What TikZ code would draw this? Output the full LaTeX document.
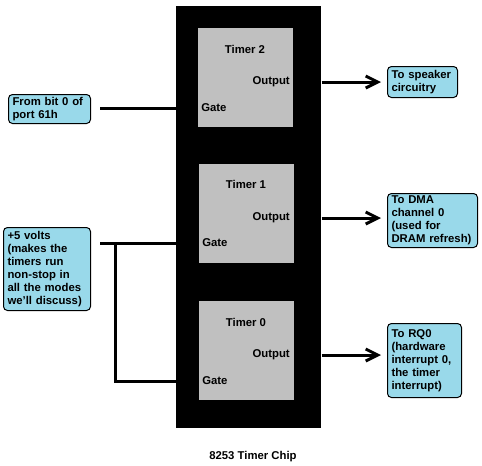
\documentclass[tikz,border=0pt]{standalone}
\usepackage{fontspec}
\setmainfont{Liberation Sans}
\usetikzlibrary{arrows.meta,calc}
\definecolor{boxblue}{HTML}{99D9EA}
\definecolor{timergray}{HTML}{C0C0C0}
\begin{document}
\begin{tikzpicture}[x=0.75pt,y=-0.75pt,
  lbl/.style={font=\bfseries\fontsize{8.5}{9.75}\selectfont, inner sep=0pt},
  info/.style={draw=black, line width=0.75pt, fill=boxblue, rounded corners=3pt,
    align=left, anchor=north west, inner xsep=3pt, inner ysep=1.5pt,
    font=\bfseries\fontsize{8.5}{9.75}\selectfont},
  timerbox/.style={fill=timergray, draw=none, anchor=north west, inner sep=0pt,
    minimum width=71.25pt, minimum height=74.25pt},
  wire/.style={line width=2.25pt, draw=black},
  outarrow/.style={wire, -{Straight Barb[length=9pt,width=9pt]}}]
\useasboundingbox (0,0) rectangle (482,465);
% chip
\node[fill=black, draw=none, anchor=north west, inner sep=0pt,
  minimum width=108.75pt, minimum height=316.5pt] (chip) at (176,6) {};
% timers
\node[timerbox] (t2) at (198,28) {};
\node[timerbox] (t1) at (199,164) {};
\node[timerbox] (t0) at (199,301) {};
\node[lbl] (t2name) at (245,49) {Timer 2};
\node[lbl, anchor=east] (t2out) at (290,82) {Output};
\node[lbl, anchor=west] (t2gate) at (201,108) {Gate};
\node[lbl] (t1name) at (246,184) {Timer 1};
\node[lbl, anchor=east] (t1out) at (290,218) {Output};
\node[lbl, anchor=west] (t1gate) at (202,243) {Gate};
\node[lbl] (t0name) at (246,322) {Timer 0};
\node[lbl, anchor=east] (t0out) at (290,355) {Output};
\node[lbl, anchor=west] (t0gate) at (202,381) {Gate};
% info boxes
\node[info, minimum width=61.5pt, minimum height=21.75pt, text width=55.5pt] (src2) at (8,94)
  {From bit 0 of\\port 61h};
\node[info, minimum width=65.25pt, minimum height=62.25pt, text width=59.25pt] (v5) at (3,227)
  {+5 volts\\(makes the\\timers run\\non-stop in\\all the modes\\we'll discuss)};
\node[info, minimum width=52.5pt, minimum height=23.25pt, text width=46.5pt] (spk) at (387,66)
  {To speaker\\circuitry};
\node[info, minimum width=67.5pt, minimum height=40.5pt, text width=61.5pt] (dma) at (387,193)
  {To DMA\\channel 0\\(used for\\DRAM refresh)};
\node[info, minimum width=55.5pt, minimum height=55.5pt, text width=49.5pt] (rq0) at (387,323)
  {To RQ0\\(hardware\\interrupt 0,\\the timer\\interrupt)};
% caption
\node[lbl] (cap) at (253,457) {8253 Timer Chip};
% connectors
\coordinate (s2) at ($(src2.east)+(9,0)$);
\coordinate (s5) at ($(v5.east)+(9,0)$);
\coordinate (jn) at ($(v5.east)+(24,0)$);
\draw[wire] (s2 |- t2gate) -- (chip.west |- t2gate);
\draw[wire] (s5 |- t1gate) -- (chip.west |- t1gate);
\draw[wire] (jn |- t1gate) -- (jn |- t0gate) -- (chip.west |- t0gate);
\coordinate (a2) at ($(spk.west)+(-6,0)$);
\coordinate (a1) at ($(dma.west)+(-6,0)$);
\coordinate (a0) at ($(rq0.west)+(-6,0)$);
\draw[outarrow] (chip.east |- t2out) -- (a2 |- t2out);
\draw[outarrow] (chip.east |- t1out) -- (a1 |- t1out);
\draw[outarrow] (chip.east |- t0out) -- (a0 |- t0out);
\end{tikzpicture}
\end{document}
